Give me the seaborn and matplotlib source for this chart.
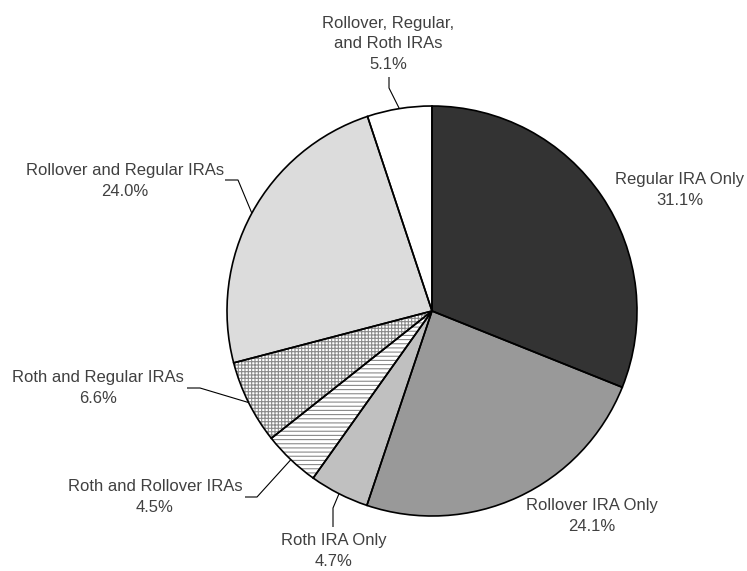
import numpy as np
import matplotlib
matplotlib.use("Agg")
import matplotlib.pyplot as plt
import seaborn as sns

# Shares of IRA-owning households by type of IRA held (percent)
categories = [
    "Regular IRA Only",
    "Rollover IRA Only",
    "Roth IRA Only",
    "Roth and Rollover IRAs",
    "Roth and Regular IRAs",
    "Rollover and Regular IRAs",
    "Rollover, Regular,\nand Roth IRAs",
]
shares = [31.1, 24.1, 4.7, 4.5, 6.6, 24.0, 5.1]

# Slice styling
fills = ["#333333", "#999999", "#c0c0c0", "#ffffff", "#ffffff", "#dcdcdc", "#ffffff"]
hatches = [None, None, None, "----", "+++++", None, None]

W, H = 747, 571
CENTER = (432, H - 311)
RADIUS = 205

# Label anchors (pixels from top-left) and leader elbows (text end first)
label_xy = [(680, 190), (592, 516), (334, 551), (155, 497), (98, 388), (125, 181), (388, 44)]
leader_elbows = [
    None,
    None,
    [(333, 527), (333, 508)],
    [(245, 497), (257, 497)],
    [(187, 388), (200, 388)],
    [(225, 180), (238, 180)],
    [(389, 77), (389, 88)],
]

sns.set_theme(style="white")
plt.rcParams["font.family"] = ["Liberation Sans", "DejaVu Sans"]
plt.rcParams["hatch.linewidth"] = 0.8

fig = plt.figure(figsize=(W / 100, H / 100), dpi=100)
ax = fig.add_axes([0, 0, 1, 1])

# Filled layer (hatch colour follows the edge colour, so keep edges invisible here)
wedges, _ = ax.pie(shares, colors=fills, startangle=90, counterclock=False,
                   center=CENTER, radius=RADIUS, frame=True,
                   wedgeprops=dict(linewidth=0))
for w, h in zip(wedges, hatches):
    if h:
        w.set_hatch(h)
        w.set_edgecolor("#8a8a8a")
        w.set_linewidth(0)

# Outline layer
ax.pie(shares, startangle=90, counterclock=False, center=CENTER, radius=RADIUS,
       frame=True, wedgeprops=dict(fill=False, edgecolor="black", linewidth=1.2))
ax.set_xlim(0, W)
ax.set_ylim(0, H)
ax.set_aspect("equal")
ax.axis("off")

text_color = "#404040"
for w, cat, val, (lx, ly), elbows in zip(wedges, categories, shares, label_xy, leader_elbows):
    ax.text(lx, H - ly, f"{cat}\n{val:.1f}%", ha="center", va="center",
            fontsize=12, color=text_color, linespacing=1.45)
    if elbows:
        mid = np.deg2rad((w.theta1 + w.theta2) / 2)
        ex = CENTER[0] + RADIUS * np.cos(mid)
        ey = CENTER[1] + RADIUS * np.sin(mid)
        xs = [p[0] for p in elbows] + [ex]
        ys = [H - p[1] for p in elbows] + [ey]
        ax.plot(xs, ys, color="black", linewidth=0.8, solid_capstyle="butt")

fig.savefig("out.png", dpi=100)
